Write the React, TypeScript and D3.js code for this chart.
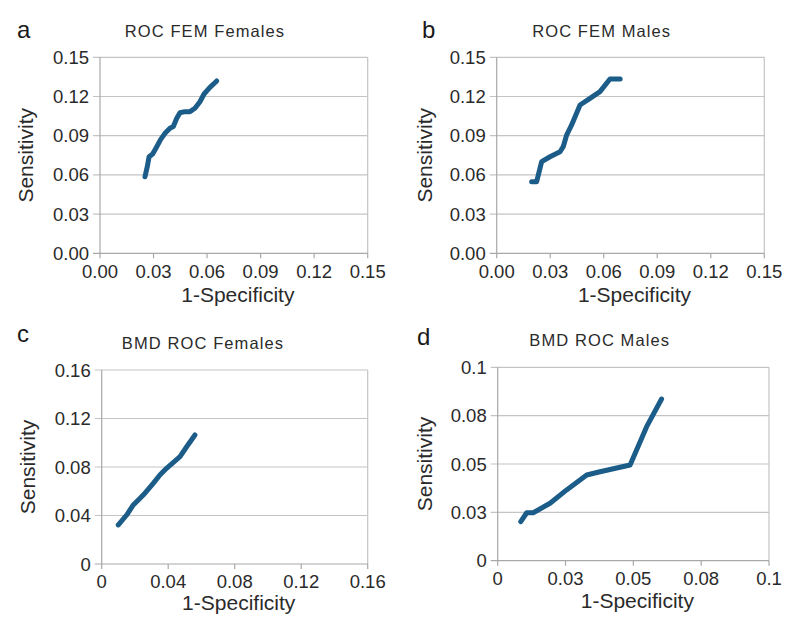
import React from "react";
import * as d3 from "d3";

// Panel a: ROC FEM Females
const femFemalesX = [0.0252, 0.0265, 0.0275, 0.0295, 0.0318, 0.034, 0.0364, 0.0392, 0.0411, 0.043, 0.0448, 0.0476, 0.0504, 0.0532, 0.056, 0.0583, 0.0616, 0.0654];
const femFemalesY = [0.0586, 0.0663, 0.0739, 0.076, 0.0816, 0.0872, 0.0918, 0.0957, 0.097, 0.1033, 0.1076, 0.1084, 0.1084, 0.111, 0.116, 0.1219, 0.127, 0.1319];
// Panel b: ROC FEM Males
const femMalesX = [0.0196, 0.0224, 0.0252, 0.0299, 0.0355, 0.0373, 0.0392, 0.042, 0.0467, 0.0523, 0.0579, 0.0635, 0.0692];
const femMalesY = [0.0548, 0.0548, 0.0701, 0.0739, 0.0777, 0.0816, 0.0905, 0.0982, 0.1135, 0.1186, 0.1237, 0.1334, 0.1334];
// Panel c: BMD ROC Females
const bmdFemalesX = [0.01, 0.015, 0.019, 0.025, 0.031, 0.035, 0.039, 0.0471, 0.0511, 0.0561];
const bmdFemalesY = [0.0322, 0.0404, 0.0487, 0.0569, 0.0665, 0.0734, 0.0789, 0.0885, 0.0967, 0.1064];
// Panel d: BMD ROC Males
const bmdMalesX = [0.0085, 0.0107, 0.0131, 0.0193, 0.0254, 0.0328, 0.0377, 0.0488, 0.0549, 0.0604];
const bmdMalesY = [0.0202, 0.0248, 0.0248, 0.0297, 0.0366, 0.0443, 0.046, 0.0495, 0.0693, 0.0836];

const ticksFEM = [0, 0.03, 0.06, 0.09, 0.12, 0.15];
const tickLabelsFEM = ["0.00", "0.03", "0.06", "0.09", "0.12", "0.15"];
const ticksBMDF = [0, 0.04, 0.08, 0.12, 0.16];
const tickLabelsBMDF = ["0", "0.04", "0.08", "0.12", "0.16"];
const ticksBMDM = [0, 0.025, 0.05, 0.075, 0.1];
const tickLabelsBMDM = ["0", "0.03", "0.05", "0.08", "0.1"];

const panelLetters = ["a", "b", "c", "d"];
const panelTitles = ["ROC FEM Females", "ROC FEM Males", "BMD ROC Females", "BMD ROC Males"];

const FONT = "'Liberation Sans', Arial, sans-serif";
const LINE = "#1c5c88";
const GRID = "#c4c4c4";
const AXIS = "#a8a8a8";

type PanelProps = {
  letter: string;
  title: string;
  xs: number[];
  ys: number[];
  ticks: number[];
  labels: string[];
  left: number;
  right: number;
  top: number;
  bottom: number;
  letterX: number;
  letterY: number;
  titleX: number;
  titleY: number;
  yTitleX: number;
  xTitleY: number;
  xTickY: number;
};

function Panel(p: PanelProps) {
  const max = p.ticks[p.ticks.length - 1];
  const x = d3.scaleLinear().domain([0, max]).range([p.left, p.right]);
  const y = d3.scaleLinear().domain([0, max]).range([p.bottom, p.top]);
  const pts = p.xs.map((v, i) => [v, p.ys[i]] as [number, number]);
  const line = d3
    .line<[number, number]>()
    .x((d) => x(d[0]))
    .y((d) => y(d[1]));
  const midY = (p.top + p.bottom) / 2;
  const midX = (p.left + p.right) / 2;
  return (
    <g>
      <text x={p.letterX} y={p.letterY} fontSize={24} fontFamily={FONT} fill="#1a1a1a">
        {p.letter}
      </text>
      <text x={p.titleX} y={p.titleY} fontSize={16.5} letterSpacing={1.1} fontFamily={FONT} textAnchor="middle" fill="#2a2a2a">
        {p.title}
      </text>
      {p.ticks.map((t, i) =>
        i === 0 ? null : (
          <line key={"g" + i} x1={p.left - 7} x2={p.right} y1={y(t)} y2={y(t)} stroke={GRID} strokeWidth={1.2} />
        )
      )}
      <line x1={p.right} x2={p.right} y1={p.top} y2={p.bottom} stroke={GRID} strokeWidth={1.2} />
      <line x1={p.left} x2={p.left} y1={p.top} y2={p.bottom} stroke={AXIS} strokeWidth={1.2} />
      <line x1={p.left - 7} x2={p.right} y1={p.bottom} y2={p.bottom} stroke={AXIS} strokeWidth={1.2} />
      {p.ticks.map((t, i) => (
        <line key={"xt" + i} x1={x(t)} x2={x(t)} y1={p.bottom} y2={p.bottom + 5} stroke={AXIS} strokeWidth={1.2} />
      ))}
      {p.ticks.map((t, i) => (
        <text key={"yl" + i} x={p.left - 11} y={y(t) + 6.5} fontSize={18.5} fontFamily={FONT} textAnchor="end" fill="#2a2a2a">
          {p.labels[i]}
        </text>
      ))}
      {p.ticks.map((t, i) => (
        <text key={"xl" + i} x={x(t)} y={p.xTickY} fontSize={18.5} fontFamily={FONT} textAnchor="middle" fill="#2a2a2a">
          {p.labels[i]}
        </text>
      ))}
      <text x={midX + 4} y={p.xTitleY} fontSize={21} fontFamily={FONT} textAnchor="middle" fill="#2a2a2a">
        1-Specificity
      </text>
      <text
        transform={`translate(${p.yTitleX},${midY}) rotate(-90)`}
        fontSize={21}
        fontFamily={FONT}
        textAnchor="middle"
        fill="#2a2a2a"
      >
        Sensitivity
      </text>
      <path d={line(pts) || ""} fill="none" stroke={LINE} strokeWidth={5} strokeLinejoin="round" strokeLinecap="round" />
    </g>
  );
}

export default function App() {
  return (
    <svg width={800} height={644} style={{ display: "block", position: "absolute", left: 0, top: 0, background: "#fff" }}>
      <Panel
        letter={panelLetters[0]}
        title={panelTitles[0]}
        xs={femFemalesX}
        ys={femFemalesY}
        ticks={ticksFEM}
        labels={tickLabelsFEM}
        left={100}
        right={367.7}
        top={57.3}
        bottom={253.3}
        letterX={17}
        letterY={38}
        titleX={205}
        titleY={36.7}
        yTitleX={33}
        xTitleY={301.7}
        xTickY={278.3}
      />
      <Panel
        letter={panelLetters[1]}
        title={panelTitles[1]}
        xs={femMalesX}
        ys={femMalesY}
        ticks={ticksFEM}
        labels={tickLabelsFEM}
        left={496.7}
        right={764.3}
        top={57.3}
        bottom={253.3}
        letterX={422}
        letterY={38}
        titleX={601.7}
        titleY={36.7}
        yTitleX={432}
        xTitleY={301.7}
        xTickY={278.3}
      />
      <Panel
        letter={panelLetters[2]}
        title={panelTitles[2]}
        xs={bmdFemalesX}
        ys={bmdFemalesY}
        ticks={ticksBMDF}
        labels={tickLabelsBMDF}
        left={101.7}
        right={367.7}
        top={370}
        bottom={564}
        letterX={17}
        letterY={342}
        titleX={203}
        titleY={349.3}
        yTitleX={35}
        xTitleY={610}
        xTickY={588.3}
      />
      <Panel
        letter={panelLetters[3]}
        title={panelTitles[3]}
        xs={bmdMalesX}
        ys={bmdMalesY}
        ticks={ticksBMDM}
        labels={tickLabelsBMDM}
        left={497.7}
        right={769}
        top={367.3}
        bottom={560.7}
        letterX={417}
        letterY={345}
        titleX={599.7}
        titleY={346}
        yTitleX={432}
        xTitleY={608.3}
        xTickY={585}
      />
    </svg>
  );
}
